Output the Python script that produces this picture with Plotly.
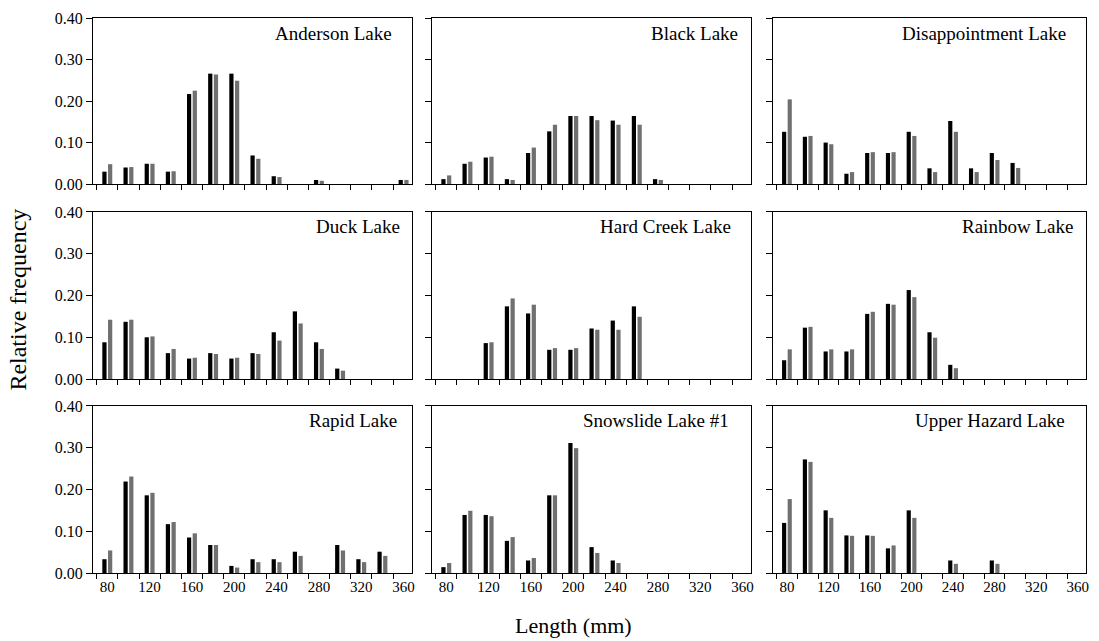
import plotly.graph_objects as go
from plotly.subplots import make_subplots

lengths = [80, 100, 120, 140, 160, 180, 200, 220, 240, 260, 280, 300, 320, 340, 360]
tick_labels = [80, 120, 160, 200, 240, 280, 320, 360]
y_ticks = [0.0, 0.1, 0.2, 0.3, 0.4]

lake_names = ["Anderson Lake", "Black Lake", "Disappointment Lake",
              "Duck Lake", "Hard Creek Lake", "Rainbow Lake",
              "Rapid Lake", "Snowslide Lake #1", "Upper Hazard Lake"]

N = None
anderson_black = [0.030, 0.040, 0.049, 0.030, 0.217, 0.266, 0.266, 0.069, 0.019, N, 0.010, N, N, N, 0.010]
anderson_gray = [0.048, 0.041, 0.049, 0.031, 0.225, 0.264, 0.249, 0.061, 0.017, N, 0.008, N, N, N, 0.010]
black_black = [0.012, 0.049, 0.064, 0.012, 0.075, 0.127, 0.164, 0.164, 0.153, 0.164, 0.012, N, N, N, N]
black_gray = [0.021, 0.054, 0.066, 0.010, 0.088, 0.143, 0.164, 0.154, 0.143, 0.143, 0.010, N, N, N, N]
disappointment_black = [0.126, 0.114, 0.100, 0.025, 0.075, 0.075, 0.126, 0.038, 0.152, 0.038, 0.075, 0.051, N, N, N]
disappointment_gray = [0.204, 0.116, 0.096, 0.029, 0.077, 0.077, 0.116, 0.029, 0.126, 0.029, 0.058, 0.039, N, N, N]
duck_black = [0.088, 0.137, 0.100, 0.062, 0.049, 0.062, 0.049, 0.062, 0.112, 0.162, 0.088, 0.025, N, N, N]
duck_gray = [0.142, 0.142, 0.102, 0.072, 0.051, 0.060, 0.051, 0.060, 0.092, 0.133, 0.072, 0.020, N, N, N]
hardcreek_black = [N, N, 0.086, 0.174, 0.157, 0.070, 0.070, 0.121, 0.140, 0.174, N, N, N, N, N]
hardcreek_gray = [N, N, 0.088, 0.193, 0.178, 0.074, 0.074, 0.118, 0.118, 0.149, N, N, N, N, N]
rainbow_black = [0.045, 0.123, 0.066, 0.066, 0.156, 0.180, 0.213, 0.112, 0.034, N, N, N, N, N, N]
rainbow_gray = [0.071, 0.125, 0.071, 0.071, 0.161, 0.178, 0.196, 0.099, 0.026, N, N, N, N, N, N]
rapid_black = [0.033, 0.219, 0.186, 0.117, 0.085, 0.067, 0.017, 0.033, 0.033, 0.051, N, 0.067, 0.033, 0.051, N]
rapid_gray = [0.054, 0.231, 0.192, 0.122, 0.095, 0.067, 0.013, 0.026, 0.026, 0.041, N, 0.054, 0.026, 0.041, N]
snowslide_black = [0.014, 0.139, 0.139, 0.077, 0.030, 0.186, 0.311, 0.062, 0.030, N, N, N, N, N, N]
snowslide_gray = [0.024, 0.149, 0.136, 0.086, 0.036, 0.186, 0.299, 0.048, 0.024, N, N, N, N, N, N]
upperhazard_black = [0.120, 0.272, 0.150, 0.090, 0.090, 0.059, 0.150, N, 0.030, N, 0.030, N, N, N, N]
upperhazard_gray = [0.177, 0.266, 0.132, 0.089, 0.089, 0.066, 0.132, N, 0.022, N, 0.022, N, N, N, N]

black_series = [anderson_black, black_black, disappointment_black,
                duck_black, hardcreek_black, rainbow_black,
                rapid_black, snowslide_black, upperhazard_black]
gray_series = [anderson_gray, black_gray, disappointment_gray,
               duck_gray, hardcreek_gray, rainbow_gray,
               rapid_gray, snowslide_gray, upperhazard_gray]

FONT = "Liberation Serif"
BLACK = "#000000"
GRAY = "#707070"

fig = make_subplots(rows=3, cols=3, horizontal_spacing=0.02, vertical_spacing=0.05)

col_domains = [[0.0, 0.3213], [0.3414, 0.6627], [0.6847, 1.0]]
row_domains = [[0.7007, 1.0], [0.3495, 0.6505], [0.0, 0.301]]
label_inset = [18, 11, 18, 10, 18, 11, 13, 20, 19]

for i, name in enumerate(lake_names):
    r, c = i // 3 + 1, i % 3 + 1
    fig.add_trace(go.Bar(x=lengths, y=black_series[i], width=4.0, offset=-4.7,
                         marker=dict(color=BLACK, line=dict(width=0)),
                         name="Series 1", showlegend=False), row=r, col=c)
    fig.add_trace(go.Bar(x=lengths, y=gray_series[i], width=4.0, offset=0.7,
                         marker=dict(color=GRAY, line=dict(width=0)),
                         name="Series 2", showlegend=False), row=r, col=c)
    axn = "" if i == 0 else str(i + 1)
    fig.add_annotation(text=name, xref=f"x{axn} domain", yref=f"y{axn} domain",
                       x=1, y=1, xanchor="right", yanchor="middle",
                       xshift=-label_inset[i], yshift=-15, showarrow=False,
                       font=dict(family=FONT, size=19, color="black"))
    fig.update_xaxes(domain=col_domains[c - 1], range=[66.5, 368],
                     tickvals=tick_labels, ticks="", showticklabels=(r == 3),
                     minor=dict(tick0=70, dtick=20, ticks="outside", ticklen=5,
                                tickcolor="black", tickwidth=1, showgrid=False),
                     showline=True, linecolor="black", linewidth=1, mirror=True,
                     showgrid=False, zeroline=False,
                     tickfont=dict(family=FONT, size=15, color="black"),
                     row=r, col=c)
    fig.update_yaxes(domain=row_domains[r - 1], range=[0, 0.4],
                     tickvals=y_ticks, tickformat=".2f", ticks="outside", ticklen=6,
                     tickcolor="black", showticklabels=(c == 1),
                     showline=True, linecolor="black", linewidth=1, mirror=True,
                     showgrid=False, zeroline=False,
                     tickfont=dict(family=FONT, size=16, color="black"),
                     row=r, col=c)

fig.add_annotation(text="Relative frequency", xref="paper", yref="paper",
                   x=-0.0753, y=0.493, textangle=-90, showarrow=False,
                   xanchor="center", yanchor="middle",
                   font=dict(family=FONT, size=24, color="black"))
fig.add_annotation(text="Length (mm)", xref="paper", yref="paper",
                   x=0.484, y=-0.095, showarrow=False,
                   xanchor="center", yanchor="middle",
                   font=dict(family=FONT, size=22, color="black"))

fig.update_layout(width=1099, height=641,
                  margin=dict(l=93, r=10, t=15, b=68),
                  plot_bgcolor="white", paper_bgcolor="white",
                  barmode="overlay", showlegend=False,
                  font=dict(family=FONT, color="black"))

fig.write_html("out.html", config={"displayModeBar": False},
               post_script="document.body.style.margin='0';")
